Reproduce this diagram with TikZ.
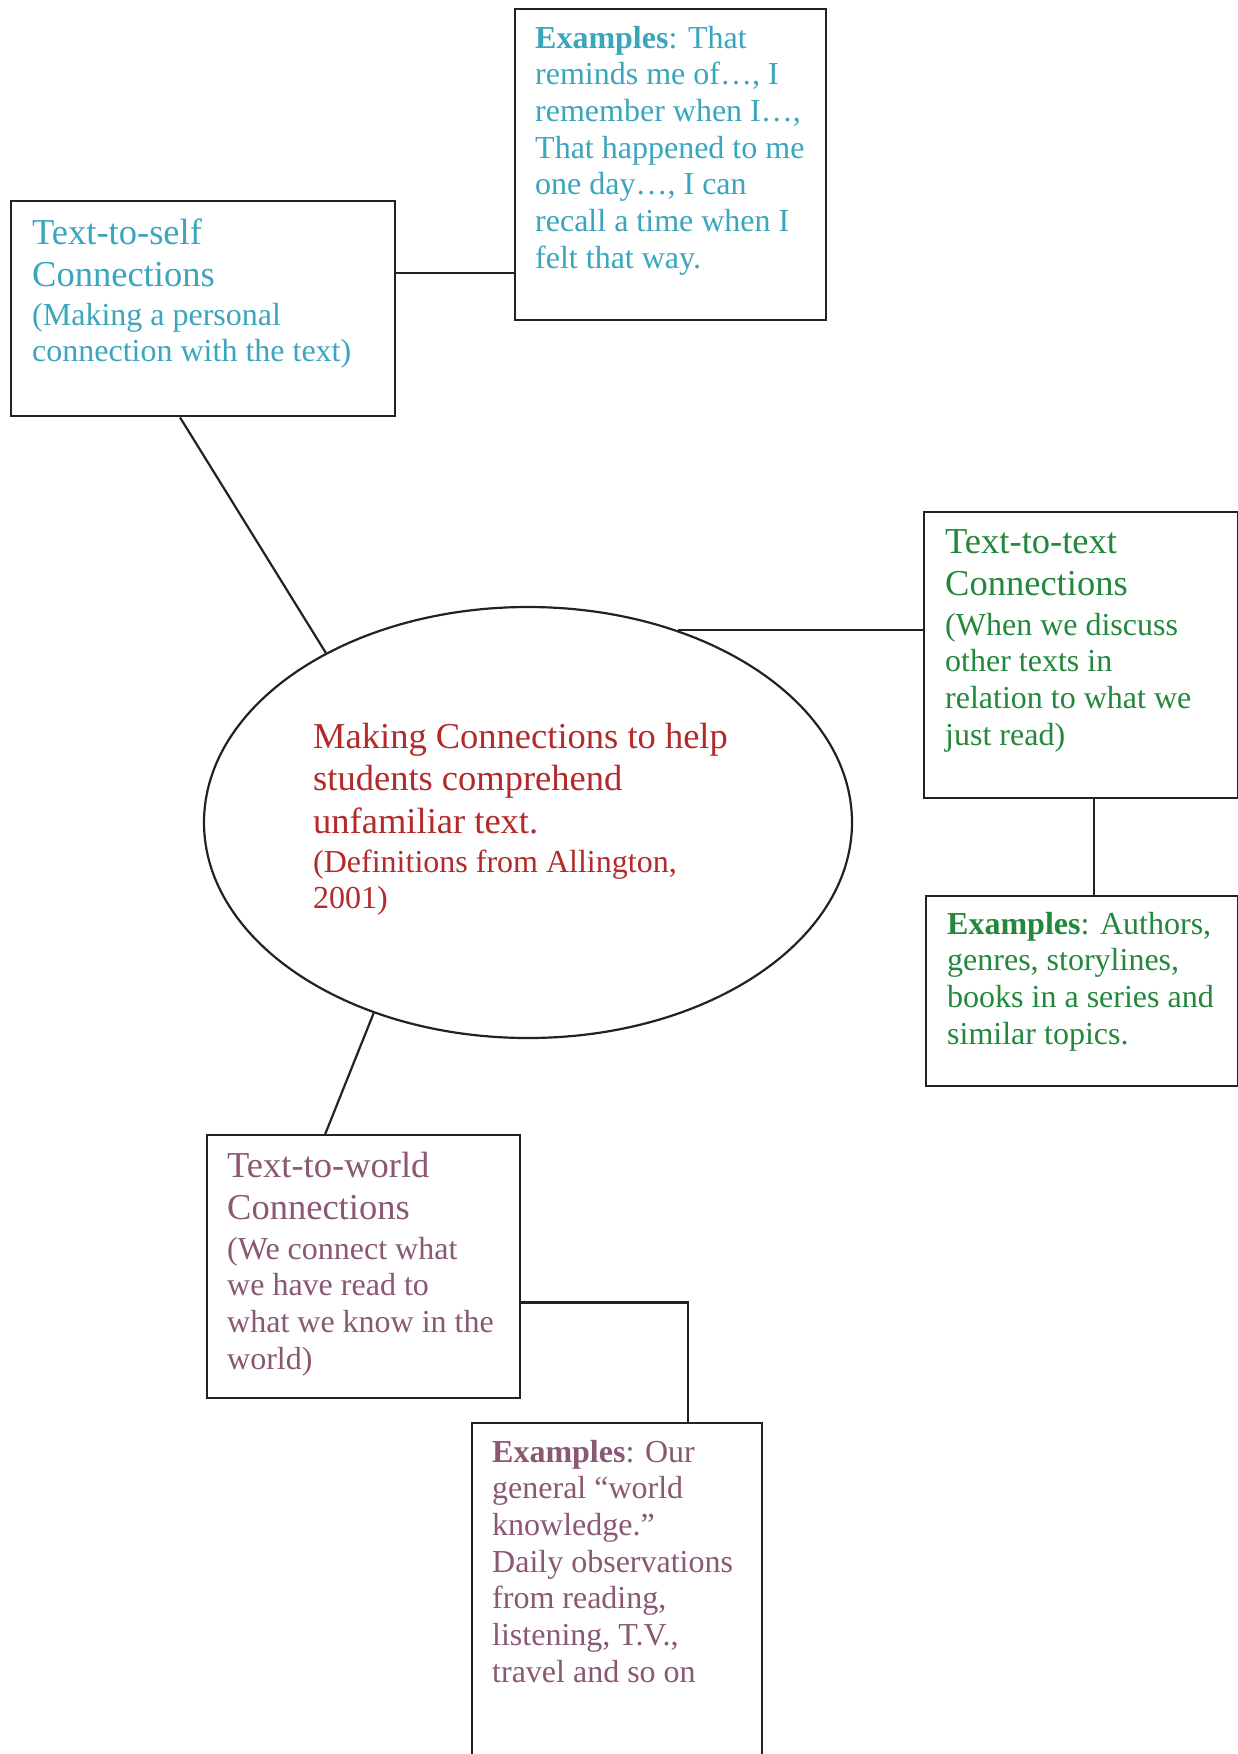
\documentclass[tikz,border=0pt]{standalone}
\usepackage{fontspec}
\setmainfont{Liberation Serif}
\usetikzlibrary{calc,shapes.geometric}
\definecolor{cteal}{RGB}{58,166,190}
\definecolor{cgreen}{RGB}{35,135,60}
\definecolor{cred}{RGB}{178,42,42}
\definecolor{cmauve}{RGB}{138,88,115}
\definecolor{cline}{RGB}{34,34,34}
\begin{document}
\begin{tikzpicture}[x=1pt,y=-1pt,
  box/.style={draw=cline,line width=2.4pt,rectangle,inner sep=0pt,anchor=north west},
  conn/.style={draw=cline,line width=2.2pt},
  body/.style={anchor=base west,inner sep=0pt,align=left,font=\fontsize{32}{36.7}\selectfont},
  head/.style={anchor=base west,inner sep=0pt,align=left,font=\fontsize{36.5}{42.5}\selectfont},
]
\useasboundingbox[fill=white] (0,0) rectangle (1238,1754);

% boxes
\node[box,minimum width=311pt,minimum height=311pt] (ex1) at (514,8) {};
\node[box,minimum width=384pt,minimum height=215pt] (self) at (10,200) {};
\node[box,minimum width=314pt,minimum height=286pt] (tt) at (923,511) {};
\node[box,minimum width=312pt,minimum height=190pt] (ex2) at (925,895) {};
\node[box,minimum width=313pt,minimum height=263pt] (world) at (206,1134) {};
\node[box,minimum width=290pt,minimum height=360pt] (ex3) at (471,1421.5) {};
\node[draw=cline,line width=2.2pt,ellipse,inner sep=0pt,minimum width=648pt,minimum height=431pt] (ell) at (528,822.5) {};

% texts (anchored at the baseline of their last line)
\node[body,text=cteal] (ex1t) at (535,268.2) {\textbf{Examples}: That\\reminds me of…, I\\remember when I…,\\That happened to me\\one day…, I can\\recall a time when I\\felt that way.};
\node[head,text=cteal] (selfh) at (32,286.5) {Text-to-self\\Connections};
\node[body,text=cteal] (selfb) at (32,361.7) {(Making a personal\\connection with the text)};

\node[head,text=cgreen] (tth) at (945,595.5) {Text-to-text\\Connections};
\node[body,text=cgreen] (ttb) at (945,745.1) {(When we discuss\\other texts in\\relation to what we\\just read)};
\node[body,text=cgreen] (ex2t) at (947,1044.1) {\textbf{Examples}: Authors,\\genres, storylines,\\books in a series and\\similar topics.};

\node[head,text=cred] (ellh) at (313,833) {Making Connections to help\\students comprehend\\unfamiliar text.};
\node[body,text=cred] (ellb) at (313,908.7) {(Definitions from Allington,\\2001)};

\node[head,text=cmauve] (worldh) at (227,1219.5) {Text-to-world\\Connections};
\node[body,text=cmauve] (worldb) at (227,1369.1) {(We connect what\\we have read to\\what we know in the\\world)};
\node[body,text=cmauve] (ex3t) at (492,1682.2) {\textbf{Examples}: Our\\general “world\\knowledge.”\\Daily observations\\from reading,\\listening, T.V.,\\travel and so on};

% connectors
\coordinate (s1) at ($(self.north east)!0.335!(self.south east)$);
\draw[conn] (s1) -- (s1 -| ex1.west);
\draw[conn] ($(self.south west)!0.44!(self.south east)$) -- (ell.140);
\draw[conn] (ell.52) -- (ell.52 -| tt.west);
\coordinate (t1) at ($(tt.south west)!0.54!(tt.south east)$);
\draw[conn] (t1) -- (t1 |- ex2.north);
\draw[conn] (ell.231) -- ($(world.north west)!0.378!(world.north east)$);
\coordinate (w1) at ($(world.north east)!0.635!(world.south east)$);
\coordinate (w2) at ($(ex3.north west)!0.743!(ex3.north east)$);
\draw[conn] (w1) -| (w2);
\end{tikzpicture}
\end{document}
